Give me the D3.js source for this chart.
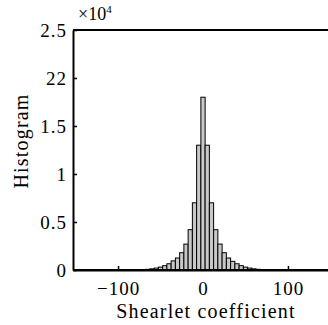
<!DOCTYPE html>
<html>
<head>
<meta charset="utf-8">
<script src="https://cdn.jsdelivr.net/npm/d3@7"></script>
<style>
  body { margin: 0; background: #fff; }
  svg { display: block; font-family: "Liberation Serif", "Times New Roman", serif; }
</style>
</head>
<body>
<div id="chart"></div>
<script>
// bin centres (shearlet coefficient) and counts (x 10^4)
const binCenters = [-75, -70, -65, -60, -55, -50, -45, -40, -35, -30, -25, -20, -15, -10, -5, 0,
                    5, 10, 15, 20, 25, 30, 35, 40, 45, 50, 55, 60, 65, 70, 75];
const counts = [0.002, 0.004, 0.007, 0.012, 0.02, 0.03, 0.045, 0.065, 0.095, 0.125, 0.18, 0.27, 0.42, 0.70, 1.30, 1.80,
                1.30, 0.70, 0.42, 0.27, 0.18, 0.125, 0.09, 0.065, 0.045, 0.03, 0.02, 0.012, 0.007, 0.004, 0.002];
const binWidth = 5;
const xTicks = [-100, 0, 100];
const yTicks = [0, 0.5, 1, 1.5, 2, 2.5];
const yTickLabels = ['0', '0.5', '1', '1.5', '22', '2.5'];

const width = 328, height = 325;
const margin = { top: 30, left: 73, bottom: 55, right: -5 };

const svg = d3.select('#chart').append('svg')
  .attr('width', width)
  .attr('height', height);

const x = d3.scaleLinear().domain([-153, 153]).range([margin.left, width - margin.right]);
const y = d3.scaleLinear().domain([0, 2.5]).range([height - margin.bottom, margin.top]);

// x axis (ticks point inward)
const xAxis = svg.append('g')
  .attr('transform', `translate(0,${y(0)})`)
  .call(d3.axisBottom(x).tickValues(xTicks).tickSizeInner(-4).tickSizeOuter(0)
    .tickFormat(d => d < 0 ? '\u2212' + Math.abs(d) : d));
xAxis.select('.domain').attr('stroke-width', 2);
xAxis.selectAll('.tick line').attr('stroke-width', 1.5);
xAxis.selectAll('.tick text')
  .attr('y', 12)
  .attr('font-size', 19)
  .attr('letter-spacing', 1)
  .attr('font-family', '"Liberation Serif", serif')
  .attr('fill', '#000');

// y axis
const yAxis = svg.append('g')
  .attr('transform', `translate(${margin.left},0)`)
  .call(d3.axisLeft(y).tickValues(yTicks).tickSizeInner(-4).tickSizeOuter(0)
    .tickFormat((d, i) => yTickLabels[i]));
yAxis.select('.domain').attr('stroke-width', 2);
yAxis.selectAll('.tick line').attr('stroke-width', 1.5);
yAxis.selectAll('.tick text')
  .attr('x', -6)
  .attr('font-size', 19)
  .attr('letter-spacing', 1)
  .attr('font-family', '"Liberation Serif", serif')
  .attr('fill', '#000');

// bars drawn over the axes, baseline redrawn after
svg.append('g')
  .selectAll('rect')
  .data(binCenters)
  .join('rect')
  .attr('x', d => x(d - binWidth / 2))
  .attr('width', d => x(d + binWidth / 2) - x(d - binWidth / 2))
  .attr('y', (d, i) => y(counts[i]))
  .attr('height', (d, i) => y(0) - y(counts[i]))
  .attr('fill', '#c8c8c8')
  .attr('stroke', '#000')
  .attr('stroke-width', 1);

svg.append('line')
  .attr('x1', margin.left).attr('x2', width)
  .attr('y1', y(0)).attr('y2', y(0))
  .attr('stroke', '#000').attr('stroke-width', 2);

// top border
svg.append('line')
  .attr('x1', margin.left).attr('x2', width)
  .attr('y1', y(2.5)).attr('y2', y(2.5))
  .attr('stroke', '#000').attr('stroke-width', 2);

// exponent
const expo = svg.append('text')
  .attr('x', 78).attr('y', 20)
  .attr('font-size', 18)
  .attr('fill', '#000');
expo.append('tspan').text('\u00d710');
expo.append('tspan').attr('dy', -7).attr('font-size', 11).text('4');

// axis labels
svg.append('text')
  .attr('x', x(0) + 3).attr('y', 318)
  .attr('text-anchor', 'middle')
  .attr('font-size', 20)
  .attr('letter-spacing', 1.2)
  .attr('fill', '#000')
  .text('Shearlet coefficient');

svg.append('text')
  .attr('transform', 'translate(28,141) rotate(-90)')
  .attr('text-anchor', 'middle')
  .attr('font-size', 20)
  .attr('letter-spacing', 1.2)
  .attr('fill', '#000')
  .text('Histogram');
</script>
</body>
</html>
